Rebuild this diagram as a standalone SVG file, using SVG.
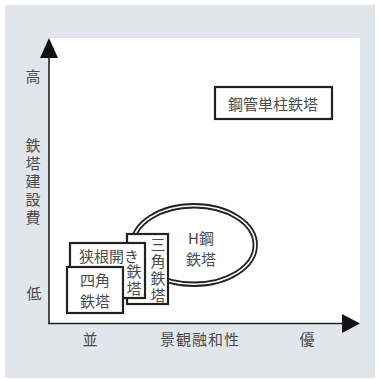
<svg xmlns="http://www.w3.org/2000/svg" width="380" height="379" viewBox="0 0 380 379">
<style>
text{font-family:"Noto Sans CJK JP","Noto Sans CJK SC",sans-serif;fill:#4a4a4a;font-size:15px;text-anchor:middle;dominant-baseline:central}
.v{writing-mode:vertical-rl;text-anchor:start}
.box{fill:#fff;stroke:#222;stroke-width:2.2}
.ax{stroke:#222;stroke-width:1.6;fill:none}
</style>
<rect x="0" y="0" width="380" height="379" fill="#fff"/>
<rect x="5" y="5" width="370" height="373" fill="#e1e6ed"/>
<rect x="49" y="38" width="311" height="286" fill="#fff"/>
<g id="connectors">
<path class="ax" d="M49,324V56"/>
<path d="M49,38L40,58H58z" fill="#111"/>
<path class="ax" d="M48,323.5H343"/>
<path d="M360,323.5L342,314V333z" fill="#111"/>
</g>
<g id="yaxis-labels">
<text x="33" y="75">高</text>
<text class="v" x="33" y="138" style="letter-spacing:3px">鉄塔建設費</text>
<text x="34" y="292">低</text>
</g>
<g id="xaxis-labels">
<text x="90" y="338">並</text>
<text x="200" y="338" style="letter-spacing:1px">景観融和性</text>
<text x="307" y="338">優</text>
</g>
<g id="steel-pipe">
<rect class="box" x="215" y="87" width="117" height="32"/>
<text x="273" y="103">鋼管単柱鉄塔</text>
</g>
<g id="h-steel">
<ellipse cx="194" cy="245" rx="63" ry="41" fill="#fff" stroke="#222" stroke-width="1.8"/>
<ellipse cx="194" cy="245" rx="59.5" ry="37.5" fill="none" stroke="#222" stroke-width="1.8"/>
<text x="201" y="237">H鋼</text>
<text x="201" y="258">鉄塔</text>
</g>
<g id="triangle">
<rect class="box" x="127" y="234" width="41" height="70"/>
<text class="v" x="158" y="237" style="letter-spacing:2px">三角鉄塔</text>
</g>
<g id="narrow">
<rect class="box" x="70" y="243" width="75" height="55"/>
<text x="109" y="255">狭根開き</text>
<text class="v" x="134" y="264" style="letter-spacing:2px">鉄塔</text>
</g>
<g id="square">
<rect class="box" x="67" y="267" width="56" height="46"/>
<text x="95" y="279">四角</text>
<text x="95" y="300">鉄塔</text>
</g>
</svg>
